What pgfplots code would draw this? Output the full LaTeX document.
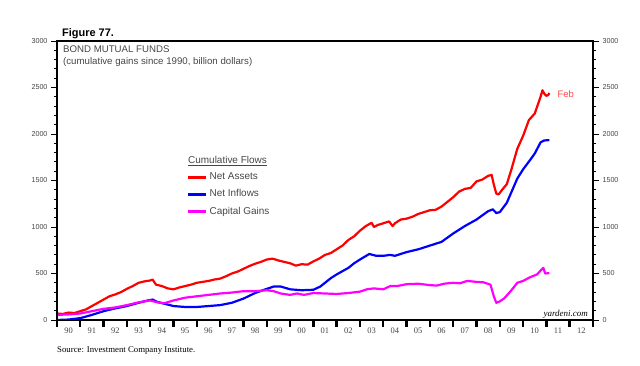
\documentclass[border=0pt]{standalone}
\usepackage{pgfplots}
\pgfplotsset{compat=1.18}
\usepackage{fontspec}
\setmainfont{Liberation Sans}
\newfontfamily\serifft{Liberation Serif}
\definecolor{txtgray}{RGB}{70,70,70}
\definecolor{febred}{RGB}{255,70,70}
\definecolor{magentaline}{RGB}{255,0,255}

\pgfplotstableread{
x y
1990.0 70
1990.25 65
1990.5 80
1990.75 75
1991.0 95
1991.25 115
1991.5 150
1991.75 185
1992.0 220
1992.25 255
1992.5 275
1992.75 300
1993.0 335
1993.25 365
1993.5 400
1993.75 415
1994.0 425
1994.1 435
1994.25 380
1994.5 365
1994.75 340
1995.0 330
1995.25 350
1995.5 365
1995.75 380
1996.0 400
1996.25 410
1996.5 420
1996.75 435
1997.0 445
1997.25 470
1997.5 500
1997.75 520
1998.0 550
1998.25 580
1998.5 605
1998.75 625
1999.0 650
1999.25 660
1999.5 640
1999.75 625
2000.0 610
2000.25 585
2000.5 600
2000.75 595
2001.0 630
2001.25 660
2001.5 700
2001.75 720
2002.0 760
2002.25 800
2002.5 860
2002.75 900
2003.0 960
2003.25 1010
2003.5 1045
2003.6 1000
2003.75 1020
2004.0 1040
2004.25 1060
2004.4 1010
2004.5 1040
2004.75 1080
2005.0 1090
2005.25 1110
2005.5 1140
2005.75 1160
2006.0 1180
2006.25 1185
2006.5 1220
2006.75 1270
2007.0 1320
2007.25 1380
2007.5 1410
2007.75 1420
2008.0 1490
2008.25 1510
2008.5 1550
2008.65 1560
2008.75 1450
2008.85 1360
2008.95 1350
2009.1 1400
2009.3 1460
2009.5 1620
2009.75 1840
2010.0 1980
2010.25 2150
2010.5 2220
2010.75 2400
2010.83 2470
2010.92 2430
2011.0 2410
2011.08 2420
2011.13 2440
}\netassets

\pgfplotstableread{
x y
1990.0 0
1990.5 5
1991.0 20
1991.5 55
1992.0 95
1992.5 125
1993.0 150
1993.5 185
1993.9 210
1994.1 220
1994.3 195
1994.6 175
1995.0 150
1995.5 140
1996.0 140
1996.5 150
1997.0 160
1997.5 185
1998.0 230
1998.5 290
1999.0 335
1999.3 360
1999.6 360
2000.0 330
2000.5 320
2001.0 325
2001.3 360
2001.75 450
2002.0 490
2002.5 560
2002.75 610
2003.0 650
2003.4 710
2003.7 690
2004.0 690
2004.3 700
2004.5 690
2005.0 730
2005.5 760
2006.0 800
2006.5 840
2007.0 930
2007.5 1010
2008.0 1080
2008.5 1170
2008.7 1190
2008.85 1150
2009.0 1160
2009.3 1260
2009.75 1520
2010.0 1620
2010.3 1720
2010.5 1790
2010.75 1910
2010.9 1930
2011.13 1935
}\netinflows

\pgfplotstableread{
x y
1990.0 55
1990.5 60
1991.0 70
1991.5 95
1992.0 120
1992.5 135
1993.0 160
1993.5 190
1994.0 210
1994.3 190
1994.6 180
1995.0 210
1995.5 240
1996.0 255
1996.5 270
1997.0 285
1997.5 295
1998.0 310
1998.5 310
1999.0 320
1999.3 310
1999.6 285
2000.0 270
2000.3 285
2000.6 270
2001.0 290
2001.5 285
2002.0 280
2002.5 290
2003.0 305
2003.3 330
2003.6 340
2004.0 330
2004.3 365
2004.6 365
2005.0 385
2005.5 390
2006.0 375
2006.3 370
2006.6 390
2007.0 400
2007.3 395
2007.6 420
2008.0 410
2008.3 405
2008.6 380
2008.75 250
2008.85 185
2009.0 200
2009.2 235
2009.5 320
2009.75 400
2010.0 420
2010.3 460
2010.6 490
2010.8 545
2010.87 560
2010.95 500
2011.13 505
}\capgains

\begin{document}
\begin{tikzpicture}
\pgfplotsset{
  base/.style={
    scale only axis, width=536bp, height=279bp,
    xmin=1990, xmax=2013, ymin=0, ymax=3000,
    axis line style={line width=1.6bp, black},
    tick align=outside,
  }
}
% main axis with data and x ticks
\begin{axis}[base, name=main,
  xtick={1990,...,2013},
  xticklabels={90,91,92,93,94,95,96,97,98,99,00,01,02,03,04,05,06,07,08,09,10,11,12,},
  x tick label style={xshift=11.65bp, yshift=3bp, font=\serifft\fontsize{8.5}{9}\selectfont, text=txtgray},
  xtick pos=bottom,
  major tick length=7bp,
  x tick style={line width=2.4bp, black},
  ytick=\empty,
  legend style={at={(axis description cs:0.236,0.542)}, anchor=north west, draw=none, fill=none,
    font=\fontsize{10}{11}\selectfont, text=txtgray, row sep=4.4bp,
    /tikz/every even column/.append style={column sep=2bp}},
  legend cell align=left,
  legend image code/.code={\draw[#1, line width=3bp] (0bp,0bp) -- (18bp,0bp);},
]
\addplot[red, line width=2.2bp, line join=round] table {\netassets};
\addlegendentry{Net Assets}
\addplot[blue, line width=2.2bp, line join=round] table {\netinflows};
\addlegendentry{Net Inflows}
\addplot[magentaline, line width=2.2bp, line join=round] table {\capgains};
\addlegendentry{Capital Gains}
\node[anchor=west, text=febred, font=\fontsize{9.5}{11}\selectfont] at (axis cs:2011.33,2430) {Feb};
\end{axis}
% left y axis
\begin{axis}[base, hide x axis,
  axis y line*=left,
  ytick={0,500,...,3000},
  minor y tick num=4,
  major tick length=6bp, minor tick length=3bp,
  y tick style={line width=0.8bp, black},
  yticklabel style={font=\fontsize{7.2}{8}\selectfont, text=txtgray, /pgf/number format/assume math mode=true, /pgf/number format/set thousands separator={}},
]
\end{axis}
% right y axis
\begin{axis}[base, hide x axis,
  axis y line*=right,
  ytick={0,500,...,3000},
  minor y tick num=4,
  major tick length=6bp, minor tick length=3bp,
  y tick style={line width=0.8bp, black},
  yticklabel style={font=\fontsize{7.2}{8}\selectfont, text=txtgray, /pgf/number format/assume math mode=true, /pgf/number format/set thousands separator={}},
]
\end{axis}
\node[anchor=base west, font=\bfseries\fontsize{11}{12}\selectfont, inner sep=0pt] at ([xshift=5bp,yshift=4bp]main.north west) {Figure 77.};
\node[anchor=base west, font=\fontsize{9.7}{11}\selectfont, text=txtgray, inner sep=0pt] at ([xshift=6bp,yshift=-12bp]main.north west) {BOND MUTUAL FUNDS};
\node[anchor=base west, font=\fontsize{9.7}{11}\selectfont, text=txtgray, inner sep=0pt] at ([xshift=6bp,yshift=-24bp]main.north west) {(cumulative gains since 1990, billion dollars)};
\node[anchor=base west, font=\fontsize{10}{11}\selectfont, text=txtgray, inner sep=0pt] at ([xshift=131bp,yshift=-123bp]main.north west) {\underline{Cumulative Flows}};
\node[anchor=base east, font=\serifft\itshape\fontsize{9}{10}\selectfont, inner sep=0pt] at ([xshift=-5bp,yshift=4bp]main.south east) {yardeni.com};
\node[anchor=base west, font=\serifft\fontsize{8.8}{10}\selectfont, inner sep=0pt] at ([xshift=0bp,yshift=-32bp]main.south west) {Source: Investment Company Institute.};
\pgfresetboundingbox
\path ([xshift=-57bp,yshift=-46bp]main.south west) rectangle ([xshift=47bp,yshift=41bp]main.north east);
\end{tikzpicture}
\end{document}
